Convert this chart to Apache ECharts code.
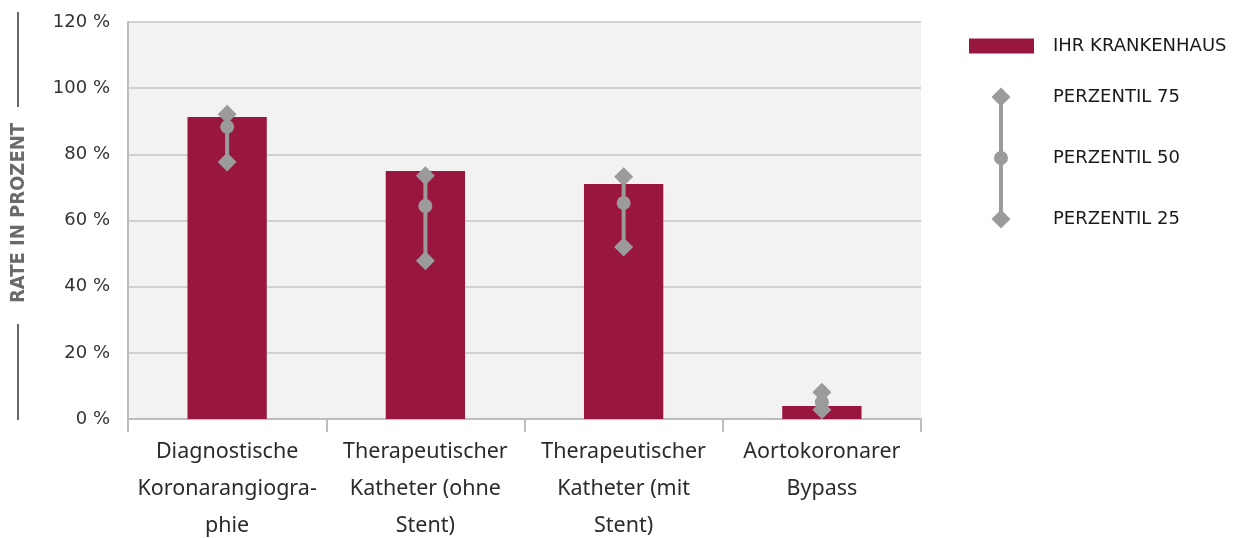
<!DOCTYPE html>
<html>
<head>
<meta charset="utf-8">
<script src="https://cdn.jsdelivr.net/npm/echarts@6/dist/echarts.min.js"></script>
<style>
  html, body { margin: 0; padding: 0; background: #ffffff; }
  #chart { width: 1239px; height: 538px; }
</style>
</head>
<body>
<div id="chart"></div>
<script>
// Eingriffe (Kategorien)
const categories = [
  'Diagnostische\nKoronarangiogra-\nphie',
  'Therapeutischer\nKatheter (ohne\nStent)',
  'Therapeutischer\nKatheter (mit\nStent)',
  'Aortokoronarer\nBypass'
];
// Rate des eigenen Krankenhauses in %
const hospitalRate = [91.3, 75.0, 71.0, 3.9];
// Perzentile der Vergleichsgruppe in %
const perzentil75 = [92.1, 73.5, 73.2, 8.1];
const perzentil50 = [88.3, 64.4, 65.3, 5.1];
const perzentil25 = [77.7, 47.8, 52.0, 2.8];
// Achse
const yTicks = [0, 20, 40, 60, 80, 100, 120];

const BAR = '#99173f';
const GREY = '#9b9b9b';

const chart = echarts.init(document.getElementById('chart'), null, { renderer: 'canvas' });

const whiskerData = categories.map((c, i) => [i, perzentil25[i], perzentil75[i]]);

chart.setOption({
  animation: false,
  grid: {
    left: 128, right: 318, top: 22, bottom: 119,
    outerBoundsMode: 'none', containLabel: false,
    show: true, backgroundColor: '#f2f2f2', borderWidth: 0
  },
  legend: {
    data: [{ name: 'IHR KRANKENHAUS', icon: 'rect' }],
    left: 964, top: 32,
    itemWidth: 65, itemHeight: 15,
    textStyle: { fontFamily: 'DejaVu Sans', fontSize: 18, color: '#1a1a1a', padding: [0, 0, 0, 14] }
  },
  xAxis: {
    type: 'category',
    data: categories,
    axisLine: { show: true, lineStyle: { color: '#bdbdbd', width: 2 } },
    axisTick: { show: true, length: 13, lineStyle: { color: '#bdbdbd', width: 2 } },
    axisLabel: {
      margin: 14, fontFamily: 'Noto Sans', fontSize: 21.5, lineHeight: 37, color: '#2b2b2b', interval: 0
    }
  },
  yAxis: {
    type: 'value',
    min: yTicks[0], max: yTicks[yTicks.length - 1], interval: 20,
    axisLine: { show: true, lineStyle: { color: '#bdbdbd', width: 2 } },
    axisTick: { show: false },
    splitLine: { show: true, lineStyle: { color: '#c6c6c6', width: 1.5 } },
    axisLabel: {
      formatter: '{value} %', margin: 18,
      fontFamily: 'DejaVu Sans', fontSize: 18, color: '#333333'
    }
  },
  series: [
    {
      name: 'IHR KRANKENHAUS',
      type: 'bar',
      data: hospitalRate,
      barWidth: '40%',
      itemStyle: { color: BAR },
      z: 2
    },
    {
      name: 'Spanne',
      type: 'custom',
      data: whiskerData,
      z: 3,
      renderItem: function (params, api) {
        const lo = api.coord([api.value(0), api.value(1)]);
        const hi = api.coord([api.value(0), api.value(2)]);
        return {
          type: 'line',
          shape: { x1: lo[0], y1: lo[1], x2: hi[0], y2: hi[1] },
          style: { stroke: GREY, lineWidth: 4 }
        };
      }
    },
    {
      name: 'PERZENTIL 75', type: 'scatter', data: perzentil75,
      symbol: 'diamond', symbolSize: [19, 19], itemStyle: { color: GREY, opacity: 1 }, z: 4
    },
    {
      name: 'PERZENTIL 50', type: 'scatter', data: perzentil50,
      symbol: 'circle', symbolSize: 14, itemStyle: { color: GREY, opacity: 1 }, z: 4
    },
    {
      name: 'PERZENTIL 25', type: 'scatter', data: perzentil25,
      symbol: 'diamond', symbolSize: [19, 19], itemStyle: { color: GREY, opacity: 1 }, z: 4
    }
  ],
  graphic: [
    // Achsentitel mit Linien
    { type: 'line', shape: { x1: 18, y1: 12, x2: 18, y2: 107 }, style: { stroke: '#666', lineWidth: 2 } },
    { type: 'line', shape: { x1: 18, y1: 324, x2: 18, y2: 420 }, style: { stroke: '#666', lineWidth: 2 } },
    {
      type: 'text', x: 19, y: 213, rotation: Math.PI / 2,
      style: {
        text: 'RATE IN PROZENT', fill: '#6a6a6a',
        font: 'bold 20px "Liberation Sans Narrow", "DejaVu Sans Condensed", sans-serif',
        align: 'center', verticalAlign: 'middle'
      }
    },
    // Legende der Perzentile
    { type: 'line', shape: { x1: 1001, y1: 97, x2: 1001, y2: 219 }, style: { stroke: GREY, lineWidth: 4 } },
    { type: 'polygon', shape: { points: [[1001, 87.5], [1010.5, 97], [1001, 106.5], [991.5, 97]] }, style: { fill: GREY } },
    { type: 'circle', shape: { cx: 1001, cy: 158, r: 7 }, style: { fill: GREY } },
    { type: 'polygon', shape: { points: [[1001, 209.5], [1010.5, 219], [1001, 228.5], [991.5, 219]] }, style: { fill: GREY } },
    { type: 'text', x: 1053, y: 97, style: { text: 'PERZENTIL 75', fill: '#1a1a1a', font: '18px "DejaVu Sans"', verticalAlign: 'middle' } },
    { type: 'text', x: 1053, y: 158, style: { text: 'PERZENTIL 50', fill: '#1a1a1a', font: '18px "DejaVu Sans"', verticalAlign: 'middle' } },
    { type: 'text', x: 1053, y: 219, style: { text: 'PERZENTIL 25', fill: '#1a1a1a', font: '18px "DejaVu Sans"', verticalAlign: 'middle' } }
  ]
});
</script>
</body>
</html>
